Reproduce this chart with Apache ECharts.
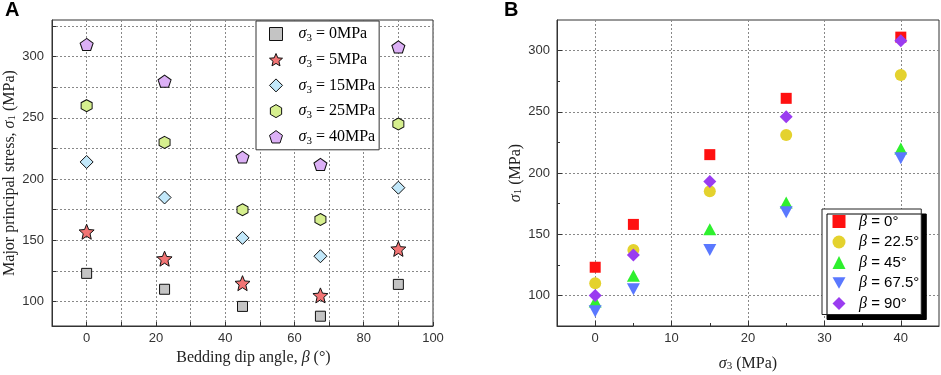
<!DOCTYPE html>
<html>
<head>
<meta charset="utf-8">
<script src="https://cdn.jsdelivr.net/npm/echarts@6/dist/echarts.min.js"></script>
<style>
html, body { margin: 0; padding: 0; background: #fff; }
#chart { width: 941px; height: 375px; }
</style>
</head>
<body>
<div id="chart"></div>
<script>
// panel A: sigma1 against bedding dip angle, one series per confining pressure
var dipAngles = [0, 22.5, 45, 67.5, 90];
var confNames = ['σ3 = 0MPa', 'σ3 = 5MPa', 'σ3 = 15MPa', 'σ3 = 25MPa', 'σ3 = 40MPa'];
var aConf0 = [123, 110, 96, 88, 114];
var aConf5 = [157, 135, 115, 105, 143];
var aConf15 = [214, 185, 152, 137, 193];
var aConf25 = [260, 230, 175, 167, 245];
var aConf40 = [310, 280, 218, 212, 308];

// panel B: sigma1 against sigma3, one series per dip angle
var sigma3 = [0, 5, 15, 25, 40];
var betaNames = ['β = 0°', 'β = 22.5°', 'β = 45°', 'β = 67.5°', 'β = 90°'];
var bBeta0 = [123, 158, 215, 261, 311];
var bBeta22 = [110, 137, 185, 231, 280];
var bBeta45 = [95, 116, 154, 176, 220];
var bBeta67 = [87, 105, 137, 168, 212];
var bBeta90 = [100, 133, 193, 246, 308];

// tick labels
var aXLabels = [0, 20, 40, 60, 80, 100];
var aYTicks = [100, 125, 150, 175, 200, 225, 250, 275, 300, 325];
var aYLabels = [100, 150, 200, 250, 300];
var bXLabels = [0, 10, 20, 30, 40];
var bXMinor = [5, 15, 25, 35];
var bYLabels = [100, 150, 200, 250, 300];
var bYMinor = [125, 175, 225, 275];

var STAR = 'path://M50 0L63.2 31.8L97.6 34.5L71.4 57L79.4 90.5L50 72.5L20.6 90.5L28.6 57L2.4 34.5L36.8 31.8Z';
var HEX = 'path://M50 0L93.3 25L93.3 75L50 100L6.7 75L6.7 25Z';
var PENT = 'path://M50 0L97.6 34.5L79.4 90.5L20.6 90.5L2.4 34.5Z';
var TRI_DOWN = 'path://M0 0L100 0L50 87Z';

var aStyle = [
    { symbol: 'rect', size: 10, color: '#c4c4c4' },
    { symbol: STAR, size: 15, color: '#f27474' },
    { symbol: 'diamond', size: 13, color: '#c2e8fa' },
    { symbol: HEX, size: [11, 12], color: '#d6ef8e' },
    { symbol: PENT, size: [13, 12], color: '#dcb0f6' }
];
var bStyle = [
    { symbol: 'rect', size: 11, color: '#ff1010' },
    { symbol: 'circle', size: 12, color: '#e4d22e' },
    { symbol: 'triangle', size: [13, 12], color: '#2ef02e' },
    { symbol: TRI_DOWN, size: [13, 12], color: '#5a78ff' },
    { symbol: 'diamond', size: 13, color: '#9a3cf0' }
];

var aValues = [aConf0, aConf5, aConf15, aConf25, aConf40];
var bValues = [bBeta0, bBeta22, bBeta45, bBeta67, bBeta90];

var gridLine = { show: true, lineStyle: { color: '#888', type: [2, 2], width: 1 } };
var axisLine = { show: true, onZero: false, lineStyle: { color: '#333', width: 1 } };
var tickFont = { fontFamily: 'Liberation Sans', fontSize: 13, color: '#333' };
var nameFont = {
    fontFamily: 'Liberation Serif', fontSize: 16, color: '#222',
    rich: {
        i: { fontFamily: 'Liberation Serif', fontStyle: 'italic', fontSize: 16, color: '#222' },
        s: { fontFamily: 'Liberation Serif', fontSize: 11, color: '#222', verticalAlign: 'bottom', lineHeight: 10 }
    }
};

var series = [];
aValues.forEach(function (vals, k) {
    series.push({
        name: confNames[k],
        type: 'scatter',
        xAxisIndex: 0,
        yAxisIndex: 0,
        symbol: aStyle[k].symbol,
        symbolSize: aStyle[k].size,
        itemStyle: { color: aStyle[k].color, borderColor: '#111', borderWidth: 1, opacity: 1 },
        data: vals.map(function (v, i) { return [dipAngles[i], v]; })
    });
});
bValues.forEach(function (vals, k) {
    series.push({
        name: betaNames[k],
        type: 'scatter',
        xAxisIndex: 1,
        yAxisIndex: 1,
        symbol: bStyle[k].symbol,
        symbolSize: bStyle[k].size,
        itemStyle: { color: bStyle[k].color, opacity: 1 },
        data: vals.map(function (v, i) { return [sigma3[i], v]; })
    });
});

var chart = echarts.init(document.getElementById('chart'));
chart.setOption({
    animation: false,
    backgroundColor: '#fff',
    title: [
        { text: 'A', left: 5, top: 0, padding: 0, textStyle: { fontFamily: 'Liberation Sans', fontSize: 20, fontWeight: 'bold', color: '#000' } },
        { text: 'B', left: 504, top: 0, padding: 0, textStyle: { fontFamily: 'Liberation Sans', fontSize: 20, fontWeight: 'bold', color: '#000' } }
    ],
    grid: [
        { left: 52, top: 20, width: 381, height: 306, show: true, borderColor: '#333', borderWidth: 1, outerBoundsMode: 'none' },
        { left: 557, top: 20, width: 382, height: 306, show: true, borderColor: '#333', borderWidth: 1, outerBoundsMode: 'none' }
    ],
    xAxis: [
        {
            gridIndex: 0, type: 'value', min: -10, max: 100, interval: 10,
            axisLine: axisLine,
            axisTick: { inside: true, length: 4, lineStyle: { color: '#333' } },
            axisLabel: Object.assign({ margin: 6, customValues: aXLabels }, tickFont),
            splitLine: gridLine,
            name: 'Bedding dip angle, {i|β} (°)', nameLocation: 'middle', nameGap: 20,
            nameTextStyle: Object.assign({ padding: [0, 0, 0, 22] }, nameFont)
        },
        {
            gridIndex: 1, type: 'value', min: -5, max: 45,
            axisLine: axisLine,
            axisTick: { inside: true, length: 5, customValues: bXLabels, lineStyle: { color: '#333' } },
            axisLabel: Object.assign({ margin: 6, customValues: bXLabels }, tickFont),
            splitLine: gridLine,
            name: '{i|σ}{s|3} (MPa)', nameLocation: 'middle', nameGap: 30,
            nameTextStyle: nameFont
        },
        {
            gridIndex: 1, type: 'value', min: -5, max: 45, position: 'bottom',
            axisLine: { show: false, onZero: false },
            axisTick: { inside: true, length: 3, customValues: bXMinor, lineStyle: { color: '#333' } },
            axisLabel: { show: false },
            splitLine: { show: false }
        }
    ],
    yAxis: [
        {
            gridIndex: 0, type: 'value', min: 80, max: 330,
            axisLine: axisLine,
            axisTick: { inside: true, length: 4, customValues: aYTicks, lineStyle: { color: '#333' } },
            axisLabel: Object.assign({ margin: 8, customValues: aYLabels }, tickFont),
            splitLine: gridLine,
            name: 'Major principal stress, {i|σ}{s|1} (MPa)', nameLocation: 'middle', nameGap: 34,
            nameTextStyle: nameFont
        },
        {
            gridIndex: 1, type: 'value', min: 75, max: 325,
            axisLine: axisLine,
            axisTick: { inside: true, length: 5, customValues: bYLabels, lineStyle: { color: '#333' } },
            axisLabel: Object.assign({ margin: 7, customValues: bYLabels }, tickFont),
            splitLine: gridLine,
            name: '{i|σ}{s|1} (MPa)', nameLocation: 'middle', nameGap: 33,
            nameTextStyle: nameFont
        },
        {
            gridIndex: 1, type: 'value', min: 75, max: 325, position: 'left',
            axisLine: { show: false, onZero: false },
            axisTick: { inside: true, length: 3, customValues: bYMinor, lineStyle: { color: '#333' } },
            axisLabel: { show: false },
            splitLine: { show: false }
        }
    ],
    legend: [
        {
            orient: 'vertical', left: 256, top: 21,
            padding: [3, 4, 3, 13], itemWidth: 13, itemHeight: 13, itemGap: 5.7,
            backgroundColor: '#fff', borderColor: '#333', borderWidth: 1,
            itemStyle: { borderWidth: 1, borderColor: '#111' },
            data: confNames.map(function (n, k) { return { name: n, icon: aStyle[k].symbol }; }),
            formatter: function (name) {
                return '{g| }{i|σ}{s|3}' + name.slice(2);
            },
            textStyle: {
                fontFamily: 'Liberation Serif', fontSize: 16, color: '#000', lineHeight: 20,
                rich: {
                    g: { width: 11 },
                    i: { fontFamily: 'Liberation Serif', fontStyle: 'italic', fontSize: 16, lineHeight: 20 },
                    s: { fontFamily: 'Liberation Serif', fontSize: 11, verticalAlign: 'bottom', lineHeight: 10 }
                }
            }
        },
        {
            orient: 'vertical', left: 822, top: 209,
            padding: [4.5, 2, 3, 10.5], itemWidth: 13, itemHeight: 13, itemGap: 4.5,
            backgroundColor: '#fff', borderColor: '#222', borderWidth: 1,
            shadowColor: '#000', shadowOffsetX: 5, shadowOffsetY: 5, shadowBlur: 0,
            itemStyle: { borderWidth: 0 },
            data: betaNames.map(function (n, k) { return { name: n, icon: bStyle[k].symbol }; }),
            formatter: function (name) {
                return '{g| }{i|β}' + name.slice(1);
            },
            textStyle: {
                fontFamily: 'Liberation Sans', fontSize: 15, color: '#000', lineHeight: 15,
                rich: {
                    g: { width: 8.5 },
                    i: { fontFamily: 'Liberation Serif', fontStyle: 'italic', fontSize: 16, lineHeight: 15 }
                }
            }
        }
    ],
    series: series
});
</script>
</body>
</html>
